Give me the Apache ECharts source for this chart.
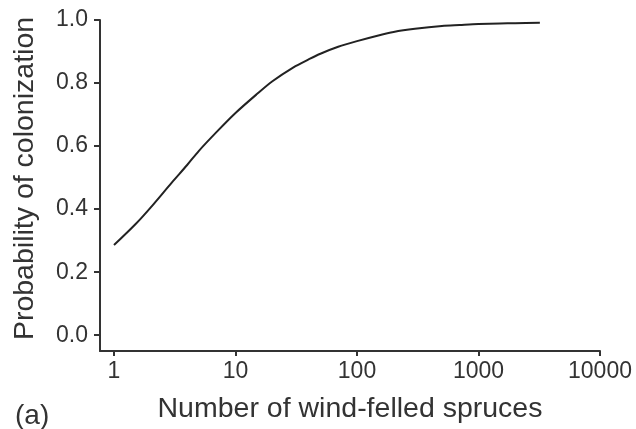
<!DOCTYPE html>
<html>
<head>
<meta charset="utf-8">
<script src="https://cdn.jsdelivr.net/npm/echarts@6/dist/echarts.min.js"></script>
<style>
  html, body { margin: 0; padding: 0; background: #fff; }
  #main { width: 636px; height: 429px; }
</style>
</head>
<body>
<div id="main"></div>
<script>
var spruces = [1, 1.5, 2, 3, 4, 5, 7, 10, 15, 20, 30, 40, 50, 70, 100, 150, 200, 300, 500, 700, 1000, 1500, 2000, 3200];
var probability = [0.286, 0.352, 0.405, 0.485, 0.54, 0.585, 0.645, 0.705, 0.765, 0.805, 0.85, 0.875, 0.893, 0.915, 0.933, 0.951, 0.962, 0.972, 0.981, 0.984, 0.987, 0.989, 0.99, 0.991];
var xTicks = [1, 10, 100, 1000, 10000];
var yTicks = [0, 0.2, 0.4, 0.6, 0.8, 1.0];

var font = "Liberation Sans";
var ink = "#333";

var myChart = echarts.init(document.getElementById("main"));

var option = {
  animation: false,
  title: {
    text: "(a)",
    left: 10,
    top: 397,
    textStyle: { fontFamily: font, fontSize: 28, fontWeight: "normal", color: ink },
  },
  grid: { left: 100, right: 36, top: 20, bottom: 75 },
  xAxis: {
    type: "log",
    min: 0.767,
    max: 10000,
    name: "Number of wind-felled spruces",
    nameLocation: "middle",
    nameGap: 44,
    nameTextStyle: { fontFamily: font, fontSize: 28.5, color: ink },
    axisLine: { onZero: false, lineStyle: { color: ink, width: 2 } },
    axisTick: { length: 5, lineStyle: { color: ink, width: 2 }, customValues: xTicks },
    axisLabel: {
      fontFamily: font, fontSize: 23, color: ink, margin: 9,
      customValues: xTicks,
      formatter: function (v) { return String(Math.round(v)); },
    },
    splitLine: { show: false },
  },
  yAxis: {
    type: "value",
    min: -0.05,
    max: 1.0,
    name: "Probability of colonization",
    nameLocation: "middle",
    nameGap: 60,
    nameTextStyle: { fontFamily: font, fontSize: 28.5, color: ink, padding: [0, 0, 0, 14] },
    axisLine: { show: true, onZero: false, lineStyle: { color: ink, width: 2 } },
    axisTick: { show: true, length: 6, lineStyle: { color: ink, width: 2 }, customValues: yTicks },
    axisLabel: {
      fontFamily: font, fontSize: 23, color: ink, margin: 12,
      customValues: yTicks,
      formatter: function (v) { return v.toFixed(1); },
    },
    splitLine: { show: false },
  },
  series: [
    {
      type: "line",
      data: spruces.map(function (x, i) { return [x, probability[i]]; }),
      smooth: 0.3,
      showSymbol: false,
      lineStyle: { color: "#222", width: 2 },
    },
  ],
};

myChart.setOption(option);
</script>
</body>
</html>
